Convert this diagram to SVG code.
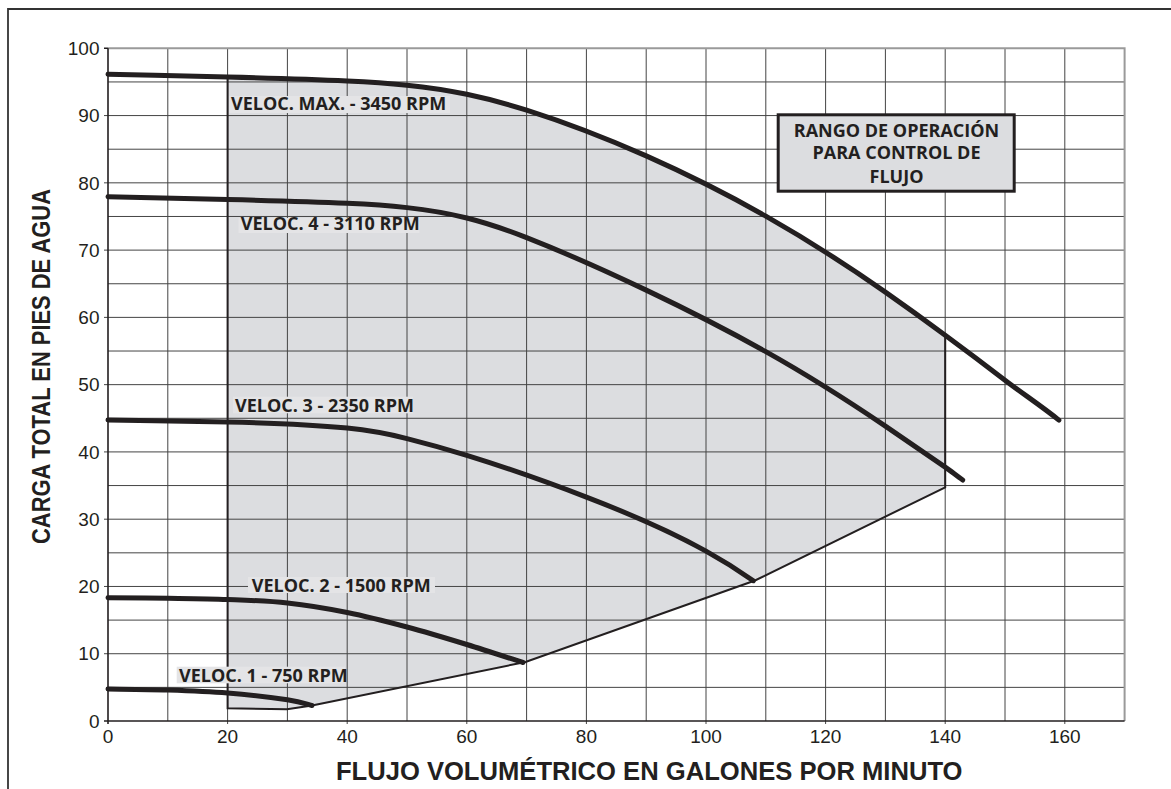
<svg xmlns="http://www.w3.org/2000/svg" width="1171" height="789" viewBox="0 0 1171 789">
<style>
.grid{stroke:#444;stroke-width:1;fill:none}
.border{stroke:#9a9a9a;stroke-width:2;fill:none}
.axis{stroke:#231f20;stroke-width:1.6;fill:none}
.curve{stroke:#231f20;stroke-width:5;fill:none;stroke-linecap:round;stroke-linejoin:round}
.edge{stroke:#231f20;stroke-width:2;fill:none;stroke-linejoin:miter}
.tick{font-family:"Liberation Sans",Arial,sans-serif;font-size:19px;fill:#231f20}
.title{font-family:"Liberation Sans",Arial,sans-serif;font-size:25.6px;font-weight:bold;fill:#231f20}
.lbl{font-family:"Open Sans","Liberation Sans",sans-serif;font-size:18px;font-weight:bold;fill:#231f20}
.lblbg{fill:#e4e4e6}
</style>
<rect x="0" y="0" width="1171" height="789" fill="#ffffff"/>
<g id="frame">
<path d="M8,789 L8,9 L1171,9" stroke="#333" stroke-width="1.8" fill="none"/>
</g>
<g id="operating-range">
<path fill="#dcdde0" d="M227.6,77 C267.47,78 307.33,79.08 347.2,80.95 C367.13,81.88 387.07,83.15 407,85.15 C426.93,87.15 446.87,90.11 466.8,94.28 C486.73,98.45 506.67,103.82 526.6,110.15 C566.47,122.82 606.33,138.23 646.2,155.9 C686.07,173.57 725.93,193.48 765.8,216.15 C805.67,238.82 845.53,264.15 885.4,292.15 C905.33,306.15 925.27,320.48 945.2,335.15 L945.2,487.3 L755,580.5 L525.5,662 L312,705.5 L287,709.3 L227.6,708.3 Z"/>
</g>
<g id="grid">
<path class="grid" d="M167.8,48.3V721 M227.6,48.3V724 M287.4,48.3V721 M347.2,48.3V724 M407,48.3V721 M466.8,48.3V724 M526.6,48.3V721 M586.4,48.3V724 M646.2,48.3V721 M706,48.3V724 M765.8,48.3V721 M825.6,48.3V724 M885.4,48.3V721 M945.2,48.3V724 M1005,48.3V721 M1064.8,48.3V724"/>
<path class="grid" d="M108,81.94H1124.6 M104,115.57H1124.6 M108,149.21H1124.6 M104,182.84H1124.6 M108,216.48H1124.6 M104,250.11H1124.6 M108,283.75H1124.6 M104,317.38H1124.6 M108,351.02H1124.6 M104,384.65H1124.6 M108,418.29H1124.6 M104,451.92H1124.6 M108,485.56H1124.6 M104,519.19H1124.6 M108,552.83H1124.6 M104,586.46H1124.6 M108,620.1H1124.6 M104,653.73H1124.6 M108,687.37H1124.6"/>
<path class="border" d="M108,48.3H1124.6V721"/>
<path class="axis" d="M104,48.3H108 M108,48.3V724 M104,721H1124.6"/>
</g>
<g id="range-edge">
<path class="edge" d="M227.6,77 L227.6,708.3 L287,709.3 L312,705.5 L525.5,662 L755,580.5 L945.2,487.3 L945.2,335.2"/>
</g>
<g id="curves">
<path id="curve-max" class="curve" d="M108,74.3 C147.87,75.1 187.73,76 227.6,77 C267.47,78 307.33,79.08 347.2,80.95 C367.13,81.88 387.07,83.15 407,85.15 C426.93,87.15 446.87,90.11 466.8,94.28 C486.73,98.45 506.67,103.82 526.6,110.15 C566.47,122.82 606.33,138.23 646.2,155.9 C686.07,173.57 725.93,193.48 765.8,216.15 C805.67,238.82 845.53,264.15 885.4,292.15 C905.33,306.15 925.27,320.48 945.2,335.15 C965.13,349.82 985.07,364.82 1005,380.15 C1021.94,393.18 1042.06,406.5 1058.9,420.1"/>
<path id="curve-4" class="curve" d="M108,196.7 C147.87,197.63 187.73,198.6 227.6,199.6 C267.47,200.6 307.33,201.62 347.2,203.35 C367.13,204.22 387.07,205.46 407,207.63 C426.93,209.8 446.87,213 466.8,218 C486.73,223 506.67,229.8 526.6,237.63 C566.47,253.3 606.33,271.13 646.2,290.13 C686.07,309.13 725.93,329.3 765.8,351.63 C805.67,373.96 845.53,399.13 885.4,426.13 C905.33,439.63 925.27,453.3 945.2,467.13 C951.18,471.28 956.72,475.8 962.7,480"/>
<path id="curve-3" class="curve" d="M108,420 C147.87,420.53 187.73,421.2 227.6,422 C267.47,422.8 307.33,424.1 347.2,428.1 C367.13,430.1 387.07,433.6 407,438.6 C426.93,443.6 446.87,449.18 466.8,455.35 C506.67,467.68 546.53,481.77 586.4,497.1 C626.27,512.43 666.13,529.1 706,551.1 C721.75,559.79 737.55,569.64 753.3,580.7"/>
<path id="curve-2" class="curve" d="M108,597.8 C117.97,597.88 147.87,598.02 167.8,598.3 S207.67,598.72 227.6,599.5 S267.47,600.83 287.4,603 S327.27,608.5 347.2,612.5 S387.07,621.67 407,627 S447.47,638.58 466.8,644.5 S513.63,659.5 523,662.5"/>
<path id="curve-1" class="curve" d="M108,689 C117.97,689.17 147.87,689.33 167.8,690 S207.67,691.37 227.6,693 S273.33,697.72 287.4,699.8 S307.9,704.55 312,705.5"/>
</g>
<g id="label-max">
<rect class="lblbg" x="229" y="96" width="221" height="17"/>
<text class="lbl" x="231" y="110">VELOC. MAX. - 3450 RPM</text>
</g>
<g id="label-4">
<rect class="lblbg" x="238.5" y="218" width="181" height="15"/>
<text class="lbl" x="240.7" y="230">VELOC. 4 - 3110 RPM</text>
</g>
<g id="label-3">
<rect class="lblbg" x="233" y="396.7" width="180" height="16.6"/>
<text class="lbl" x="235" y="411.7">VELOC. 3 - 2350 RPM</text>
</g>
<g id="label-2">
<rect class="lblbg" x="248" y="577" width="187" height="16"/>
<text class="lbl" x="251.7" y="592.3">VELOC. 2 - 1500 RPM</text>
</g>
<g id="label-1">
<rect class="lblbg" x="176.7" y="666.7" width="168.3" height="16.6"/>
<text class="lbl" x="179" y="682.3">VELOC. 1 - 750 RPM</text>
</g>
<g id="legend">
<rect x="778.2" y="114.8" width="236" height="76.4" fill="#dcdde0" stroke="#231f20" stroke-width="3"/>
<text class="lbl" x="896.5" y="136.7" text-anchor="middle">RANGO DE OPERACIÓN</text>
<text class="lbl" x="896.5" y="159.3" text-anchor="middle">PARA CONTROL DE</text>
<text class="lbl" x="896.5" y="183.3" text-anchor="middle">FLUJO</text>
</g>
<g id="y-ticks" class="tick" text-anchor="end">
<text x="99.5" y="55">100</text>
<text x="99.5" y="122.3">90</text>
<text x="99.5" y="189.5">80</text>
<text x="99.5" y="256.8">70</text>
<text x="99.5" y="324.1">60</text>
<text x="99.5" y="391.3">50</text>
<text x="99.5" y="458.6">40</text>
<text x="99.5" y="525.9">30</text>
<text x="99.5" y="593.2">20</text>
<text x="99.5" y="660.4">10</text>
<text x="99.5" y="727.7">0</text>
</g>
<g id="x-ticks" class="tick" text-anchor="middle">
<text x="108" y="743">0</text>
<text x="227.6" y="743">20</text>
<text x="347.2" y="743">40</text>
<text x="466.8" y="743">60</text>
<text x="586.4" y="743">80</text>
<text x="706" y="743">100</text>
<text x="825.6" y="743">120</text>
<text x="945.2" y="743">140</text>
<text x="1064.8" y="743">160</text>
</g>
<g id="axis-titles">
<text class="title" x="649.2" y="780" text-anchor="middle">FLUJO VOLUMÉTRICO EN GALONES POR MINUTO</text>
<text class="title" transform="translate(50,366.5) rotate(-90)" text-anchor="middle" textLength="355" lengthAdjust="spacingAndGlyphs">CARGA TOTAL EN PIES DE AGUA</text>
</g>
</svg>
